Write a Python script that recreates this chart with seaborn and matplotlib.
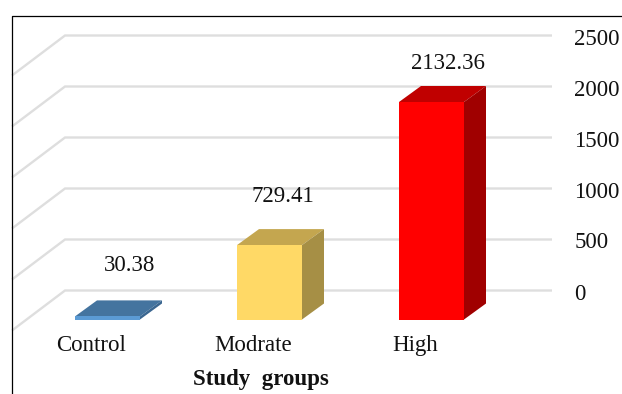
import matplotlib
matplotlib.use("Agg")
import matplotlib.pyplot as plt
import matplotlib.transforms as mtrans
from matplotlib.lines import Line2D
from matplotlib.patches import Polygon
import seaborn as sns

groups = ["Control", "Modrate", "High"]
values = [30.38, 729.41, 2132.36]
value_text = ["30.38", "729.41", "2132.36"]
axis_ticks = [0, 500, 1000, 1500, 2000, 2500]

face_colors = ["#5B9BD5", "#FFD966", "#FF0000"]
top_colors = ["#44749F", "#C4A64F", "#C00000"]
side_colors = ["#3A6690", "#A68F45", "#A00000"]

W, H = 622, 394
PX_PER_UNIT = 0.102   # vertical pixels per value unit
DEPTH_X, DEPTH_Y = 22, 16   # bar depth in pixels
WALL_X, WALL_Y = 53, 40     # side wall run in pixels
label_shift = [(22.5, 51), (13.5, 49), (16.5, 38)]  # pixels from bar's front top
GRID_COLOR = "#DEDEDE"

sns.set_theme(style="white")
plt.rcParams["font.family"] = ["Liberation Serif", "DejaVu Serif"]
plt.rcParams["font.size"] = 16.5

fig = plt.figure(figsize=(W / 100, H / 100), dpi=100)


def px_axes(left, right, top, bottom):
    return fig.add_axes([left / W, 1 - bottom / H, (right - left) / W, (bottom - top) / H])


# Back wall: gridlines and the value axis on the right
wall = px_axes(65, 552, 290.5 - 2500 * PX_PER_UNIT, 290.5)
wall.set_xlim(0, 1)
wall.set_ylim(0, 2500)
wall.set_yticks(axis_ticks)
wall.set_xticks([])
wall.yaxis.tick_right()
wall.tick_params(axis="y", length=0, pad=16, labelsize=16.5, colors="#111111")
for s in wall.spines.values():
    s.set_visible(False)
for lab in wall.get_yticklabels():
    lab.set_transform(lab.get_transform() + mtrans.ScaledTranslation(0, -1 / 100, fig.dpi_scale_trans))
# Gridlines on the back wall, continuing forward along the side wall
for v in axis_ticks:
    wall.plot([1, 0, -WALL_X / 487], [v, v, v - WALL_Y / PX_PER_UNIT],
              color=GRID_COLOR, lw=1.7, clip_on=False, solid_capstyle="butt",
              solid_joinstyle="miter")

# Front layer: the bars, with the baseline at the front of the floor
ax = px_axes(12, 622, 15, 319.5)
ax.patch.set_alpha(0)
sns.barplot(x=groups, y=values, hue=groups, palette=face_colors, width=65 / 162,
            saturation=1, legend=False, ax=ax, zorder=3, linewidth=0)
ax.set_xlim((12 - 107.5) / 162, (622 - 107.5) / 162)
ax.set_ylim(0, 304.5 / PX_PER_UNIT)
ax.set_yticks([])
ax.set_ylabel("")
for s in ax.spines.values():
    s.set_visible(False)

half = 65 / 162 / 2
dx = DEPTH_X / 162
dy = DEPTH_Y / PX_PER_UNIT
for i, val in enumerate(values):
    x0, x1 = i - half, i + half
    ax.add_patch(Polygon([(x0, val), (x1, val), (x1 + dx, val + dy), (x0 + dx, val + dy)],
                         closed=True, fc=top_colors[i], ec="none", zorder=2, clip_on=False))
    ax.add_patch(Polygon([(x1, 0), (x1 + dx, dy), (x1 + dx, val + dy), (x1, val)],
                         closed=True, fc=side_colors[i], ec="none", zorder=2, clip_on=False))
    sx, sy = label_shift[i]
    ax.annotate(value_text[i], (i, val), xytext=(sx * 0.72, sy * 0.72), textcoords="offset points",
                ha="center", va="center", fontsize=16.5, color="#111111")

ax.set_xticks(range(len(groups)), groups)
ax.tick_params(axis="x", length=0, pad=11, labelsize=16.5, colors="#111111")
for lab in ax.get_xticklabels():
    lab.set_transform(lab.get_transform() + mtrans.ScaledTranslation(-16 / 100, 0, fig.dpi_scale_trans))

fig.text(261 / W, 1 - 380 / H, "Study  groups", ha="center", va="center",
         fontsize=16.5, fontweight="bold", color="#111111")

# Open frame: left and top edges only
fig.add_artist(Line2D([11.5 / W, 11.5 / W, 1], [0, 1 - 15.5 / H, 1 - 15.5 / H],
                      color="black", lw=0.9))

fig.savefig("out.png", dpi=100)
